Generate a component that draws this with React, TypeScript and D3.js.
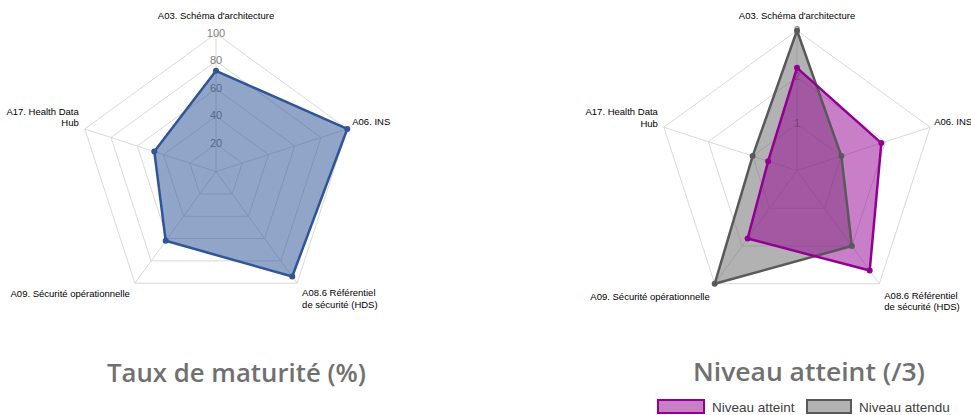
import React from "react";
import * as d3 from "d3";

const axisLabels: string[][] = [
  ["A03. Schéma d'architecture"],
  ["A06. INS"],
  ["A08.6 Référentiel", "de sécurité (HDS)"],
  ["A09. Sécurité opérationnelle"],
  ["A17. Health Data", "Hub"],
];
const maturity = [73, 100, 94, 62, 47];
const maturityTicks = [20, 40, 60, 80, 100];
const niveauAtteint = [2.2, 1.9, 2.65, 1.8, 0.65];
const niveauAttendu = [3, 1, 2, 3, 1];
const levelTicks = [1, 2, 3];
const legendLabels = ["Niveau atteint", "Niveau attendu"];
const titles = ["Taux de maturité (%)", "Niveau atteint (/3)"];

type Series = { values: number[]; fill: string; fillOpacity: number; stroke: string };

// label placement relative to vertex: [dx, dy(baseline of first line), anchor]
const labelPlacement: [number, number, string][] = [
  [0, -15, "middle"],
  [5, -4, "start"],
  [5, 13, "start"],
  [-5, 14, "end"],
  [-6, -14, "end"],
];

function Radar({ cx, cy, r, max, ticks, series, shift, topShift, dxShift }: { cx: number; cy: number; r: number; max: number; ticks: number[]; series: Series[]; shift: number; topShift: number; dxShift: number[] }) {
  const n = axisLabels.length;
  const scale = d3.scaleLinear().domain([0, max]).range([0, r]);
  const ang = (i: number) => (i * 2 * Math.PI) / n;
  const pt = (i: number, v: number): [number, number] => [cx + scale(v) * Math.sin(ang(i)), cy - scale(v) * Math.cos(ang(i))];
  const line = d3.line<[number, number]>().curve(d3.curveLinearClosed);
  return (
    <g>
      {ticks.map((t) => (
        <path key={"g" + t} d={line(d3.range(n).map((i) => pt(i, t))) || ""} fill="none" stroke="#D9D9D9" strokeWidth={1} />
      ))}
      {d3.range(n).map((i) => {
        const [x, y] = pt(i, max);
        return <line key={"s" + i} x1={cx} y1={cy} x2={x} y2={y} stroke="#D9D9D9" strokeWidth={1} />;
      })}
      {ticks.map((t) => (
        <text key={"t" + t} x={cx} y={cy - scale(t) - 1} textAnchor="middle" dominantBaseline="central" fontSize={11} fill="#808080" fontFamily="'Liberation Sans', Arial, sans-serif">
          {t}
        </text>
      ))}
      {series.map((s, k) => (
        <path key={"f" + k} d={line(s.values.map((v, i) => pt(i, v))) || ""} fill={s.fill} fillOpacity={s.fillOpacity} stroke="none" />
      ))}
      {series.map((s, k) => (
        <g key={"l" + k}>
          <path d={line(s.values.map((v, i) => pt(i, v))) || ""} fill="none" stroke={s.stroke} strokeWidth={2.5} strokeLinejoin="round" />
          {s.values.map((v, i) => {
            const [x, y] = pt(i, v);
            return <circle key={i} cx={x} cy={y} r={3} fill={s.stroke} />;
          })}
        </g>
      ))}
      {axisLabels.map((lines, i) => {
        const [x, y] = pt(i, max);
        const [dx, dy, anchor] = labelPlacement[i];
        const lx = x + dx + dxShift[i];
        const ly = y + dy + shift + (i === 0 ? topShift : 0);
        return (
          <text key={"a" + i} x={lx} y={ly} textAnchor={anchor as any} fontSize={9.5} fill="#000" fontFamily="'Liberation Sans', Arial, sans-serif">
            {lines.map((l, j) => (
              <tspan key={j} x={lx} dy={j === 0 ? 0 : 11.5}>
                {l}
              </tspan>
            ))}
          </text>
        );
      })}
    </g>
  );
}

export default function App() {
  const purple = "#910091";
  const grey = "#666666";
  return (
    <svg width={971} height={415} style={{ position: "absolute", left: 0, top: 0, background: "#fff" }}>
      <Radar cx={216} cy={171.6} r={138} max={100} ticks={maturityTicks} shift={0} topShift={0} dxShift={[0, 0, 0, 0, 0]} series={[{ values: maturity, fill: "#2F5597", fillOpacity: 0.53, stroke: "#2F5597" }]} />
      <Radar
        cx={797}
        cy={170.5}
        r={140}
        max={3}
        ticks={levelTicks}
        shift={2}
        topShift={1.5}
        dxShift={[0, -1, 0, 0, 0]}
        series={[
          { values: niveauAttendu, fill: grey, fillOpacity: 0.5, stroke: "#595959" },
          { values: niveauAtteint, fill: purple, fillOpacity: 0.5, stroke: purple },
        ]}
      />
      <text x={236.5} y={382} textAnchor="middle" fontSize={25} fontWeight={600} fill="#707070" fontFamily="'Open Sans', sans-serif" textLength={259} lengthAdjust="spacingAndGlyphs">
        {titles[0]}
      </text>
      <text x={809} y={381} textAnchor="middle" fontSize={25} fontWeight={600} fill="#707070" fontFamily="'Open Sans', sans-serif" textLength={232} lengthAdjust="spacingAndGlyphs">
        {titles[1]}
      </text>
      <g fontFamily="'Liberation Sans', Arial, sans-serif" fontSize={13.5} fill="#404040">
        <rect x={658} y={400} width={46} height={13} fill={purple} fillOpacity={0.5} stroke={purple} strokeWidth={2} />
        <text x={712} y={412}>{legendLabels[0]}</text>
        <rect x={807} y={400} width={44} height={13} fill={grey} fillOpacity={0.5} stroke="#595959" strokeWidth={2} />
        <text x={859} y={412}>{legendLabels[1]}</text>
      </g>
    </svg>
  );
}
